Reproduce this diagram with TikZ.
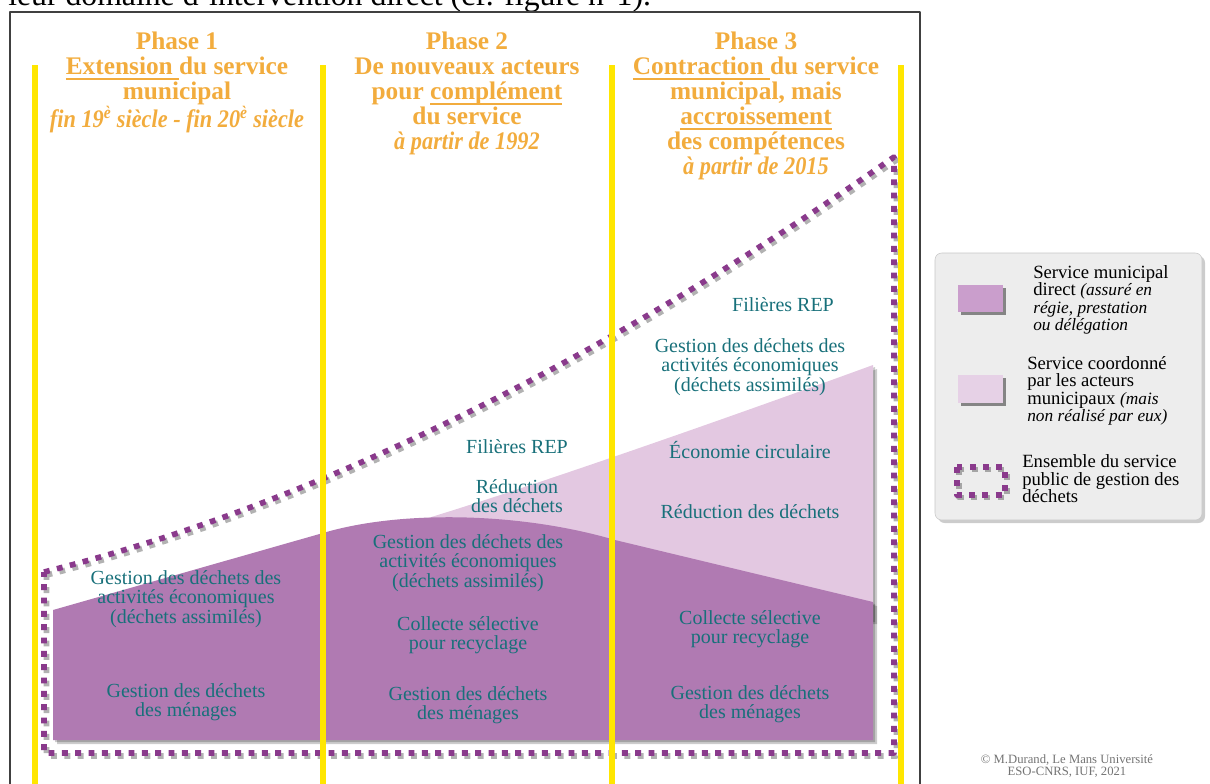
\documentclass[tikz,border=0pt]{standalone}
\usepackage{fontspec}
\usepackage{graphicx}
\setmainfont{Liberation Serif}
\definecolor{jaunebar}{HTML}{FFE600}
\definecolor{titreor}{HTML}{F2AC3D}
\definecolor{sarcelle}{HTML}{18707A}
\definecolor{violetfonce}{HTML}{B07AB2}
\definecolor{violetclair}{HTML}{E3C8E1}
\definecolor{violetpt}{HTML}{8A3A8C}
\definecolor{legfonce}{HTML}{CA9ECC}
\definecolor{legclair}{HTML}{E6D1E6}
\definecolor{fondleg}{HTML}{EDEDED}
\newcommand{\petitit}[1]{{\fontsize{13}{13.1}\selectfont\itshape #1}}
\newcommand{\souligne}[1]{\setbox0\hbox{#1}\rlap{\rule[-3.6pt]{\wd0}{1.3pt}}\box0}
\newcommand{\datephase}[1]{\scalebox{.88}[1]{\itshape #1}}
\begin{document}
\begin{tikzpicture}[x=0.75pt, y=-0.75pt, line join=round, line cap=round,
    titre/.style={text=titreor, font=\fontsize{19}{18.75}\selectfont\bfseries, align=center, inner sep=0pt, anchor=north},
    etiq/.style={text=sarcelle, font=\fontsize{15}{14.5}\selectfont, align=center, inner sep=0pt},
    leg/.style={font=\fontsize{14}{13.1}\selectfont, align=left, inner sep=0pt, anchor=west},
    pointille/.style={line width=4.2pt, line cap=butt, dash pattern=on 4.4pt off 5.6pt, draw=violetpt},
    ombre/.style={fill=black, opacity=.2}]
    \useasboundingbox (0,0) rectangle (1210,783);
    \node[anchor=base west, inner sep=0pt, font=\fontsize{23.8}{24}\selectfont] (entete) at (8,5) {leur domaine d'intervention direct (cf. figure n°1).};
    \draw[black!75, line width=1.1pt, line cap=butt] (10,790) -- (10,12) -- (920,12) -- (920,790);
    % zones de service
    \foreach \d in {2,4} {
        \fill[ombre, shift={(\d,\d)}] (428,518) .. controls (520,490) and (700,428) .. (873,365) -- (873,620) -- (428,620) -- cycle;
    }
    \fill[violetclair] (428,518) .. controls (520,490) and (700,428) .. (873,365) -- (873,620) -- (428,620) -- cycle;
    \foreach \d in {2,4} {
        \fill[ombre, shift={(\d,\d)}] (53,610) -- (323,533) .. controls (400,510) and (520,512) .. (615,540) -- (873,602) -- (873,740) -- (53,740) -- cycle;
    }
    \fill[violetfonce] (53,610) -- (323,533) .. controls (400,510) and (520,512) .. (615,540) -- (873,602) -- (873,740) -- (53,740) -- cycle;
    % ensemble du service public
    \draw[pointille, draw=black, opacity=.3, shift={(2.5,3)}] (44,572) .. controls (325,502) and (612,354) .. (894,157) -- (894,753) -- (44,753) -- cycle;
    \draw[pointille] (44,572) .. controls (325,502) and (612,354) .. (894,157) -- (894,753) -- (44,753) -- cycle;
    \foreach \x in {35,323,612,901}
    \draw[jaunebar, line width=4.2pt, line cap=butt] (\x,65) -- (\x,790);
    % phases
    \node[titre] (phaseA) at (177,32) {Phase 1\\\souligne{Extension }du service\\municipal\\\datephase{fin 19\textsuperscript{è} siècle - fin 20\textsuperscript{è} siècle}};
    \node[titre] (phaseB) at (467,32) {Phase 2\\De nouveaux acteurs\\pour \souligne{complément}\\du service\\\datephase{à partir de 1992}};
    \node[titre] (phaseC) at (756,32) {Phase 3\\\souligne{Contraction }du service\\municipal, mais\\\souligne{accroissement}\\des compétences\\\datephase{à partir de 2015}};
    \foreach \nom/\x/\y in {A/186/599, B/468/563, C/750/367}
    \node[etiq] (eco\nom) at (\x,\y) {Gestion des déchets des\\activités économiques\\(déchets assimilés)};
    \foreach \nom/\x/\y in {A/186/702, B/468/705, C/750/704}
    \node[etiq] (men\nom) at (\x,\y) {Gestion des déchets\\des ménages};
    \foreach \nom/\x/\y in {B/468/635, C/750/629}
    \node[etiq] (col\nom) at (\x,\y) {Collecte sélective\\pour recyclage};
    \node[etiq] (repB) at (517,447) {Filières REP};
    \node[etiq] (repC) at (783,305) {Filières REP};
    \node[etiq] (redB) at (517,496) {Réduction\\des déchets};
    \node[etiq] (redC) at (750,512) {Réduction des déchets};
    \node[etiq] (circC) at (750,450) {Économie circulaire};
    % legende
    \fill[ombre, rounded corners=5pt] (938,256) rectangle (1205,523);
    \filldraw[fill=fondleg, draw=black!22, rounded corners=5pt] (935,253) rectangle (1202,520);
    \fill[black!75, opacity=.6] (961,288) rectangle (1006,315);
    \fill[legfonce] (958,285) rectangle (1003,312);
    \fill[black!75, opacity=.6] (961,378) rectangle (1006,406);
    \fill[legclair] (958,375) rectangle (1003,403);
    \draw[pointille, draw=black, opacity=.3, shift={(2,2.5)}] (957,467) rectangle (1005,495);
    \draw[pointille] (957,467) rectangle (1005,495);
    \node[leg] (legA) at (1033,300) {Service municipal\\direct \petitit{(assuré en}\\\petitit{régie, prestation}\\\petitit{ou délégation}};
    \node[leg] (legB) at (1027,391) {Service coordonné\\par les acteurs\\municipaux \petitit{(mais}\\\petitit{non réalisé par eux)}};
    \node[leg] (legC) at (1022,479) {Ensemble du service\\public de gestion des\\déchets};
    \node[text=black!55, font=\fontsize{9.5}{8.8}\selectfont, align=center, inner sep=0pt] (credit) at (1067,766) {© M.Durand, Le Mans Université\\ESO-CNRS, IUF, 2021};
\end{tikzpicture}
\end{document}
